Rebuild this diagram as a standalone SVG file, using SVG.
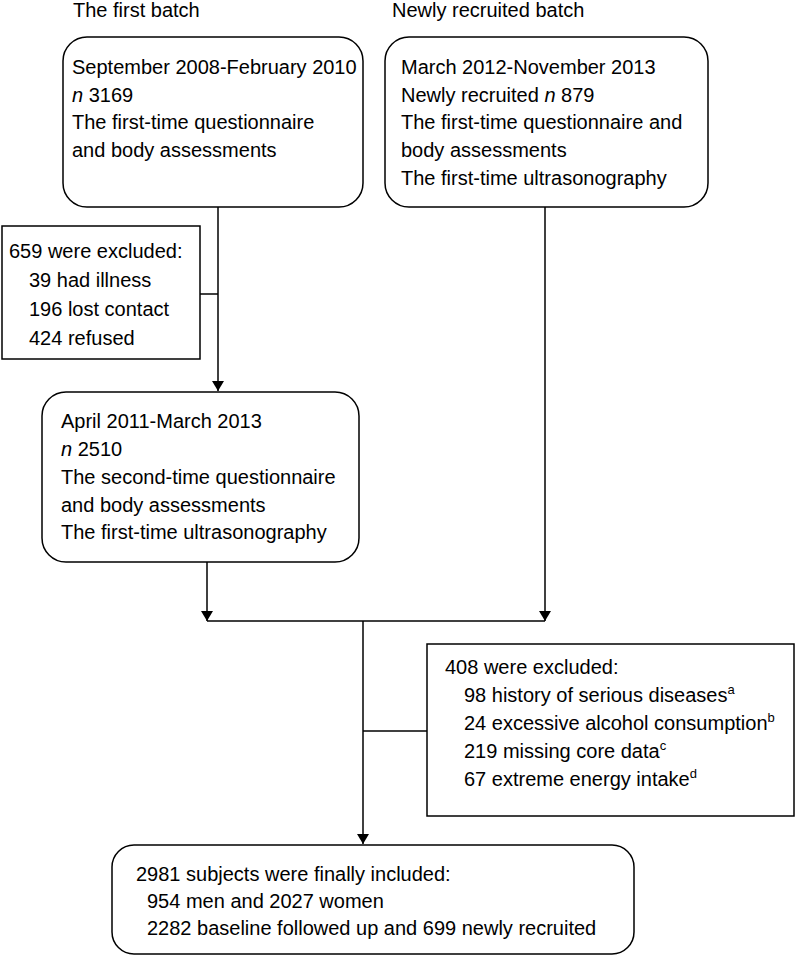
<svg xmlns="http://www.w3.org/2000/svg" width="795" height="956" viewBox="0 0 795 956">
<defs>
<style>
text{font-family:"Liberation Sans",Arial,sans-serif;font-size:20px;fill:#000}
.box{fill:#fff;stroke:#000;stroke-width:1.5}
.ln{fill:none;stroke:#000;stroke-width:1.5}
.sup{font-size:13px}
</style>
<marker id="ah" viewBox="0 0 10 12" refX="10" refY="6" markerWidth="10" markerHeight="12" markerUnits="userSpaceOnUse" orient="auto">
<path d="M0,0 L10,6 L0,12 Z" fill="#000"/>
</marker>
</defs>
<rect width="795" height="956" fill="#fff"/>
<text x="73" y="17">The first batch</text>
<text x="392" y="17">Newly recruited batch</text>
<g id="connectors">
<path class="ln" d="M218,207 V391" marker-end="url(#ah)"/>
<path class="ln" d="M200,294 H218"/>
<path class="ln" d="M207,562 V621" marker-end="url(#ah)"/>
<path class="ln" d="M545,207 V621" marker-end="url(#ah)"/>
<path class="ln" d="M207,621 H545"/>
<path class="ln" d="M363,621 V844" marker-end="url(#ah)"/>
<path class="ln" d="M363,731 H427"/>
</g>
<g id="n1">
<rect class="box" x="63" y="37" width="300" height="170" rx="24"/>
<text x="72" y="74">September 2008-February 2010</text>
<text x="72" y="102"><tspan font-style="italic">n</tspan> 3169</text>
<text x="72" y="129">The first-time questionnaire</text>
<text x="72" y="157">and body assessments</text>
</g>
<g id="n2">
<rect class="box" x="385" y="37" width="323" height="170" rx="24"/>
<text x="401" y="74">March 2012-November 2013</text>
<text x="401" y="102">Newly recruited <tspan font-style="italic">n</tspan> 879</text>
<text x="401" y="129">The first-time questionnaire and</text>
<text x="401" y="157">body assessments</text>
<text x="401" y="185">The first-time ultrasonography</text>
</g>
<g id="x1">
<rect class="box" x="2" y="226" width="198" height="133"/>
<text x="9" y="258">659 were excluded:</text>
<text x="29" y="287">39 had illness</text>
<text x="29" y="316">196 lost contact</text>
<text x="29" y="345">424 refused</text>
</g>
<g id="n3">
<rect class="box" x="42" y="392" width="317" height="170" rx="24"/>
<text x="61" y="428">April 2011-March 2013</text>
<text x="61" y="456"><tspan font-style="italic">n</tspan> 2510</text>
<text x="61" y="484">The second-time questionnaire</text>
<text x="61" y="512">and body assessments</text>
<text x="61" y="539">The first-time ultrasonography</text>
</g>
<g id="x2">
<rect class="box" x="427" y="644" width="367" height="172"/>
<text x="445" y="674">408 were excluded:</text>
<text x="464" y="702">98 history of serious diseases<tspan class="sup" dy="-8">a</tspan></text>
<text x="464" y="730">24 excessive alcohol consumption<tspan class="sup" dy="-8">b</tspan></text>
<text x="464" y="758">219 missing core data<tspan class="sup" dy="-8">c</tspan></text>
<text x="464" y="786">67 extreme energy intake<tspan class="sup" dy="-8">d</tspan></text>
</g>
<g id="n4">
<rect class="box" x="112" y="845" width="522" height="109" rx="22"/>
<text x="136" y="881">2981 subjects were finally included:</text>
<text x="147" y="908">954 men and 2027 women</text>
<text x="147" y="935">2282 baseline followed up and 699 newly recruited</text>
</g>
</svg>
